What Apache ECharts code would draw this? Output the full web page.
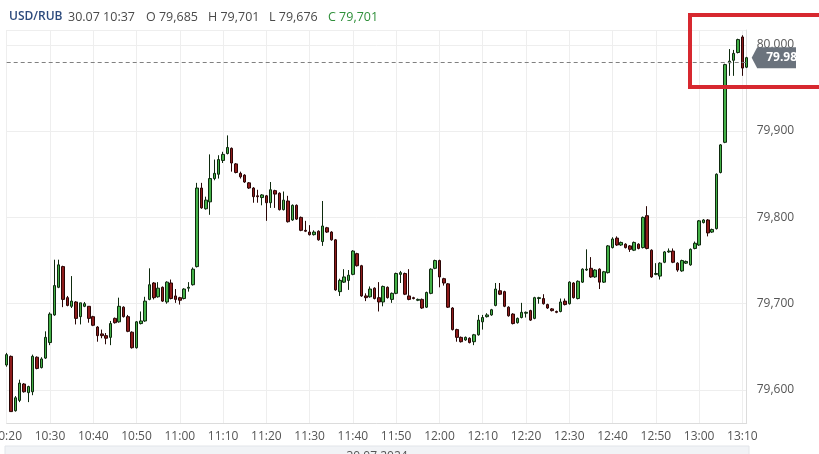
<!DOCTYPE html>
<html>
<head>
<meta charset="utf-8">
<script src="https://cdn.jsdelivr.net/npm/echarts@6/dist/echarts.min.js"></script>
<style>
  html, body { margin: 0; padding: 0; background: #ffffff; overflow: hidden; }
  #wrap { position: relative; width: 819px; height: 454px; }
  #chart { position: absolute; left: 0; top: 0; width: 796px; height: 454px; }
  #hl { position: absolute; left: 688px; top: 13px; width: 140px; height: 76px;
        border: 4px solid #d7282f; box-sizing: border-box; pointer-events: none; }
</style>
</head>
<body>
<div id="wrap"><div id="chart"></div><div id="hl"></div></div>
<script>
// ---- data (USD/RUB, 1-minute candles, 30.07.2024, 10:20 .. 13:11) ----
const startHour = 10, startMinute = 20, candleCount = 172;
const times = [];
for (let i = 0; i < candleCount; i++) {
  const m = startHour * 60 + startMinute + i;
  times.push(Math.floor(m / 60) + ':' + String(m % 60).padStart(2, '0'));
}
const opens = [
79.629,79.639,79.576,79.588,79.607,79.597,79.598,79.638,79.626,79.637,
79.655,79.687,79.719,79.743,79.707,79.697,79.702,79.685,79.697,79.697,
79.685,79.673,79.665,79.663,79.661,79.683,79.679,79.696,79.685,79.667,
79.649,79.677,79.680,79.705,79.724,79.708,79.719,79.702,79.724,79.709,
79.707,79.706,79.718,79.722,79.743,79.834,79.810,79.818,79.845,79.850,
79.866,79.874,79.880,79.862,79.851,79.849,79.840,79.834,79.825,79.823,
79.825,79.817,79.831,79.828,79.809,79.819,79.797,79.814,79.800,79.785,
79.783,79.780,79.784,79.772,79.788,79.783,79.774,79.714,79.725,79.727,
79.734,79.758,79.744,79.709,79.708,79.718,79.707,79.702,79.719,79.705,
79.712,79.734,79.735,79.709,79.707,79.704,79.705,79.696,79.712,79.741,
79.750,79.729,79.723,79.695,79.670,79.661,79.658,79.660,79.656,79.664,
79.679,79.685,79.687,79.698,79.715,79.714,79.696,79.688,79.678,79.684,
79.689,79.692,79.683,79.706,79.706,79.699,79.694,79.691,79.691,79.703,
79.700,79.724,79.706,79.725,79.739,79.741,79.731,79.740,79.725,79.736,
79.765,79.776,79.768,79.769,79.767,79.762,79.769,79.765,79.802,79.762,
79.734,79.732,79.748,79.760,79.761,79.747,79.738,79.747,79.745,79.764,
79.768,79.794,79.797,79.783,79.787,79.852,79.887,79.979,79.982,79.991,
80.009,79.974];
const closes = [
79.641,79.575,79.591,79.608,79.598,79.604,79.639,79.625,79.636,79.661,
79.688,79.721,79.745,79.705,79.698,79.703,79.683,79.701,79.700,79.683,
79.675,79.663,79.663,79.660,79.677,79.678,79.697,79.685,79.668,79.649,
79.679,79.680,79.703,79.722,79.707,79.718,79.703,79.725,79.706,79.705,
79.704,79.717,79.719,79.740,79.834,79.811,79.820,79.845,79.851,79.867,
79.873,79.881,79.863,79.852,79.847,79.841,79.834,79.824,79.824,79.826,
79.817,79.832,79.827,79.809,79.820,79.795,79.814,79.798,79.785,79.784,
79.780,79.783,79.774,79.790,79.783,79.774,79.716,79.727,79.731,79.733,
79.761,79.744,79.709,79.707,79.717,79.706,79.702,79.720,79.707,79.712,
79.735,79.736,79.711,79.705,79.706,79.705,79.695,79.713,79.740,79.750,
79.731,79.724,79.696,79.670,79.661,79.656,79.661,79.655,79.664,79.681,
79.684,79.687,79.693,79.717,79.711,79.697,79.686,79.677,79.683,79.690,
79.690,79.681,79.707,79.707,79.700,79.695,79.692,79.690,79.702,79.699,
79.725,79.707,79.726,79.740,79.740,79.731,79.739,79.725,79.737,79.767,
79.775,79.768,79.771,79.765,79.763,79.771,79.764,79.800,79.764,79.731,
79.735,79.747,79.760,79.761,79.748,79.739,79.750,79.749,79.763,79.770,
79.796,79.797,79.782,79.786,79.850,79.884,79.977,79.981,79.990,80.006,
79.973,79.985];
const lows = [
79.627,79.575,79.575,79.586,79.597,79.586,79.594,79.624,79.625,79.636,
79.652,79.686,79.718,79.696,79.697,79.695,79.676,79.676,79.696,79.678,
79.674,79.656,79.660,79.653,79.652,79.677,79.678,79.684,79.667,79.648,
79.648,79.676,79.679,79.704,79.705,79.707,79.702,79.700,79.705,79.701,
79.699,79.705,79.714,79.721,79.742,79.810,79.809,79.803,79.843,79.845,
79.863,79.873,79.853,79.851,79.845,79.840,79.833,79.817,79.817,79.814,
79.796,79.811,79.811,79.808,79.808,79.794,79.796,79.797,79.784,79.783,
79.779,79.779,79.773,79.767,79.782,79.773,79.715,79.709,79.724,79.716,
79.733,79.743,79.708,79.703,79.707,79.705,79.691,79.697,79.706,79.701,
79.711,79.724,79.710,79.704,79.705,79.703,79.694,79.695,79.711,79.740,
79.719,79.721,79.695,79.669,79.656,79.655,79.657,79.654,79.652,79.663,
79.670,79.684,79.686,79.697,79.710,79.696,79.685,79.676,79.677,79.683,
79.684,79.680,79.682,79.700,79.699,79.694,79.691,79.689,79.690,79.698,
79.699,79.706,79.705,79.724,79.738,79.730,79.730,79.717,79.724,79.735,
79.764,79.767,79.767,79.764,79.760,79.761,79.763,79.764,79.763,79.730,
79.733,79.728,79.747,79.759,79.747,79.737,79.737,79.746,79.744,79.763,
79.767,79.793,79.778,79.782,79.786,79.851,79.886,79.964,79.964,79.990,
79.964,79.973];
const highs = [
79.643,79.640,79.593,79.612,79.608,79.605,79.641,79.639,79.638,79.668,
79.690,79.751,79.751,79.744,79.709,79.732,79.703,79.701,79.702,79.697,
79.686,79.674,79.670,79.666,79.680,79.684,79.707,79.697,79.687,79.668,
79.680,79.691,79.708,79.741,79.725,79.725,79.720,79.726,79.728,79.717,
79.708,79.718,79.725,79.742,79.840,79.840,79.824,79.873,79.867,79.872,
79.876,79.895,79.881,79.863,79.853,79.850,79.841,79.835,79.832,79.827,
79.826,79.841,79.832,79.829,79.830,79.825,79.815,79.815,79.801,79.796,
79.791,79.785,79.785,79.819,79.789,79.784,79.775,79.729,79.740,79.739,
79.762,79.759,79.745,79.712,79.720,79.719,79.725,79.721,79.720,79.713,
79.736,79.738,79.736,79.740,79.708,79.706,79.706,79.714,79.741,79.751,
79.751,79.730,79.724,79.696,79.671,79.662,79.662,79.661,79.665,79.687,
79.687,79.689,79.694,79.724,79.724,79.715,79.697,79.689,79.684,79.701,
79.691,79.693,79.708,79.708,79.711,79.700,79.695,79.692,79.706,79.706,
79.726,79.725,79.727,79.741,79.763,79.754,79.740,79.741,79.738,79.768,
79.777,79.778,79.772,79.770,79.768,79.772,79.770,79.801,79.813,79.763,
79.747,79.748,79.761,79.764,79.764,79.748,79.751,79.750,79.764,79.772,
79.797,79.798,79.798,79.787,79.851,79.885,79.978,79.995,79.994,80.007,
80.011,79.986];
const yTickLabels = ['79,600', '79,700', '79,800', '79,900', '80,000'];
const symbolName = 'USD/RUB';
const dateLabel = '30.07.2024';
const hoverIndex = 17;            // candle shown in the header (10:37)
const yMin = 79.5618, yMax = 80.0171;

// ---- build ----
const candles = times.map((t, i) => [opens[i], closes[i], lows[i], highs[i]]);
const lastClose = closes[closes.length - 1];
const fmt = v => v.toFixed(3).replace('.', ',');
const isTenMin = (idx, val) => String(val).slice(-1) === '0';
const FONT = '"Open Sans", "Noto Sans", sans-serif';

const chart = echarts.init(document.getElementById('chart'), null, { renderer: 'canvas' });
const hdrY = 17;
const headerParts = [
  { x: 9,   text: symbolName, fill: '#2c4a7c', weight: 600, size: 12 },
  { x: 68,  text: '30.07 ' + times[hoverIndex], fill: '#4a4a4a', weight: 'normal', size: 12.5 },
  { x: 146, text: 'O ' + fmt(opens[hoverIndex]), fill: '#4a4a4a', weight: 'normal', size: 12.5 },
  { x: 208, text: 'H ' + fmt(highs[hoverIndex]), fill: '#4a4a4a', weight: 'normal', size: 12.5 },
  { x: 269, text: 'L ' + fmt(lows[hoverIndex]), fill: '#4a4a4a', weight: 'normal', size: 12.5 },
  { x: 328, text: 'C ' + fmt(closes[hoverIndex]), fill: '#2f8f3a', weight: 'normal', size: 12.5 }
];

chart.setOption({
  animation: false,
  backgroundColor: '#ffffff',
  grid: { left: 6.7, right: 49.3, top: 30, bottom: 31, containLabel: false, outerBoundsMode: 'none' },
  xAxis: {
    type: 'category',
    data: times,
    boundaryGap: false,
    axisLine: { show: true, lineStyle: { color: '#dcdcdc' } },
    axisTick: { show: false },
    axisLabel: { interval: isTenMin, color: '#555', fontSize: 12, fontFamily: FONT, margin: 8 },
    splitLine: { show: true, interval: isTenMin, lineStyle: { color: '#eeeeee' } }
  },
  yAxis: {
    type: 'value',
    position: 'right',
    min: yMin,
    max: yMax,
    scale: true,
    axisLine: { show: true, lineStyle: { color: '#dcdcdc' } },
    axisTick: { show: false },
    splitLine: { show: true, lineStyle: { color: '#eeeeee' } },
    axisLabel: {
      color: '#555', fontSize: 12, fontFamily: FONT, margin: 10,
      showMinLabel: false, showMaxLabel: false,
      formatter: v => { const s = fmt(v); return yTickLabels.indexOf(s) >= 0 ? s : ''; }
    }
  },
  series: [{
    type: 'candlestick',
    data: candles,
    barWidth: 3,
    clip: false,
    itemStyle: {
      color: '#43b047', borderColor: '#0e2a0e',
      color0: '#8e1b1b', borderColor0: '#2a0606',
      borderWidth: 1
    },
    markLine: {
      silent: true,
      symbol: ['none', 'none'],
      label: { show: false },
      lineStyle: { color: '#808080', type: [4, 3], width: 1 },
      data: [{ yAxis: lastClose }]
    }
  }]
});

const yPix = chart.convertToPixel({ yAxisIndex: 0 }, lastClose);
const xR = chart.convertToPixel({ xAxisIndex: 0 }, times[times.length - 1]);
const graphics = headerParts.map(p => ({
  type: 'text', x: p.x, y: hdrY, z: 100,
  style: { text: p.text, fill: p.fill, fontSize: p.size, fontWeight: p.weight, fontFamily: FONT, verticalAlign: 'middle' }
}));
graphics.push({
  type: 'polygon', z: 100,
  shape: { points: [[xR + 5, yPix], [xR + 10.5, yPix - 10.5], [800, yPix - 10.5], [800, yPix + 10.5], [xR + 10.5, yPix + 10.5]] },
  style: { fill: '#6b737d' }
});
graphics.push({
  type: 'text', z: 101, x: xR + 19.5, y: yPix,
  style: { text: lastClose.toFixed(3), fill: '#ffffff', fontSize: 12, fontWeight: 'bold', fontFamily: FONT, verticalAlign: 'middle' }
});
graphics.push({
  type: 'rect', z: 90, shape: { x: 5, y: 446, width: 744, height: 20 },
  style: { fill: '#f1f3f6', stroke: '#e2e5e9', lineWidth: 1 }
});
graphics.push({
  type: 'text', z: 91, x: 377, y: 451,
  style: { text: dateLabel, fill: '#555', fontSize: 12, fontFamily: FONT, align: 'center', verticalAlign: 'top' }
});
chart.setOption({ graphic: graphics });
</script>
</body>
</html>
